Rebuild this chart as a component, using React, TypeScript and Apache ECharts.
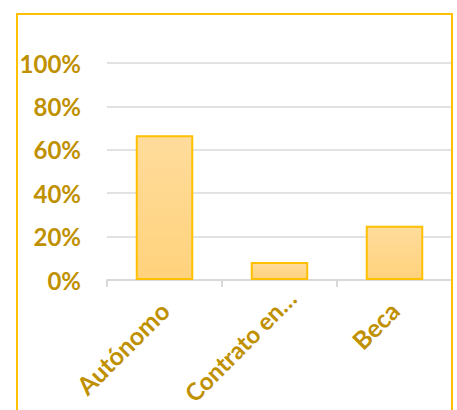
import React, { useEffect, useRef } from "react";
import * as echarts from "echarts";

const categories = ["Autónomo", "Contrato en…", "Beca"];
const shares = [0.667, 0.083, 0.25];
const yTicks = [0, 0.2, 0.4, 0.6, 0.8, 1.0];

export default function App() {
  const ref = useRef<HTMLDivElement>(null);
  useEffect(() => {
    const chart = echarts.init(ref.current!, null, { renderer: "svg" });
    const gold = "#BF9000";
    chart.setOption({
      animation: false,
      grid: { left: 107, right: 5, top: 63, bottom: 130, containLabel: false, outerBoundsMode: "none" },
      graphic: [
        {
          type: "rect",
          shape: { x: 17, y: 14, width: 435, height: 420 },
          style: { fill: "none", stroke: "#FFC000", lineWidth: 2 },
          z: 10,
        },
      ],
      xAxis: {
        type: "category",
        data: categories.map((c, i) =>
          i === 1
            ? { value: c, textStyle: { padding: [0, -17, 0, 0], fontSize: 24, lineHeight: 24 } }
            : c
        ),
        axisLine: { lineStyle: { color: "#D9D9D9", width: 2 } },
        axisTick: { show: true, length: 7, lineStyle: { color: "#D9D9D9", width: 2 } },
        axisLabel: {
          rotate: 45,
          color: gold,
          fontFamily: "Lato",
          fontWeight: "bold",
          fontSize: 25,
          margin: 26,
          interval: 0,
        },
      },
      yAxis: {
        type: "value",
        min: yTicks[0],
        max: yTicks[yTicks.length - 1],
        interval: 0.2,
        axisLine: { show: false },
        axisTick: { show: false },
        splitLine: { lineStyle: { color: "#D9D9D9", width: 1.5 } },
        axisLabel: {
          color: gold,
          fontFamily: "Lato",
          fontWeight: "bold",
          fontSize: 24,
          margin: 26,
          formatter: (v: number) => Math.round(v * 100) + "%",
        },
      },
      series: [
        {
          type: "bar",
          data: shares,
          barWidth: "50%",
          itemStyle: {
            color: new echarts.graphic.LinearGradient(0, 0, 0, 1, [
              { offset: 0, color: "#FFDC9C" },
              { offset: 1, color: "#FFD27C" },
            ]),
            borderColor: "#FFC000",
            borderWidth: 2,
          },
        },
      ],
    });
    return () => chart.dispose();
  }, []);
  return (
    <div
      ref={ref}
      style={{ position: "fixed", left: 0, top: 0, width: 457, height: 410, background: "#fff" }}
    />
  );
}
